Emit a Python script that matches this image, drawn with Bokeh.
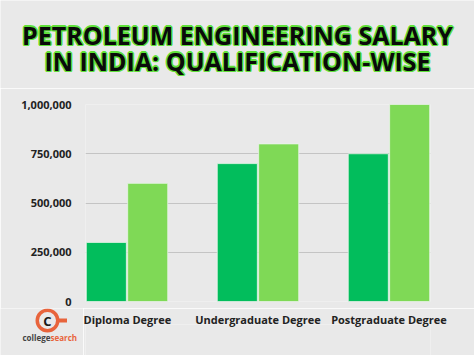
from bokeh.plotting import figure
from bokeh.layouts import column, row
from bokeh.models import Range1d, FixedTicker, NumeralTickFormatter
from bokeh.core.properties import value
from bokeh.embed import file_html
from bokeh.resources import INLINE

categories = ["Diploma Degree", "Undergraduate Degree", "Postgraduate Degree"]
series_a = [300000, 700000, 750000]
series_b = [600000, 800000, 1000000]
y_ticks = [0, 250000, 500000, 750000, 1000000]
title_lines = ["PETROLEUM ENGINEERING SALARY", "IN INDIA: QUALIFICATION-WISE"]
logo_words = ["college", "search"]

W, H = 474, 355
TITLE_H = 88
CHART_BOTTOM = 308
BG = "#e9e9e9"
DARK = "#02bd5c"
LIGHT = "#7fd956"
ORANGE = "#e8643c"
GLOW = "#5fe03a"


def style_plain(f):
    f.background_fill_color = BG
    f.border_fill_color = BG
    f.outline_line_color = None
    f.xgrid.visible = False
    f.ygrid.visible = False


# ---------- title panel ----------
tf = figure(width=W, height=TITLE_H, output_backend="svg", toolbar_location=None,
            x_range=Range1d(0, W), y_range=Range1d(TITLE_H, 0),
            x_axis_location=None, y_axis_location=None, frame_align=False,
            min_border=0, min_border_left=0, min_border_right=0, min_border_top=0, min_border_bottom=0)
style_plain(tf)
title_y = [34, 60]
offsets = [(-1.4, 0), (1.4, 0), (0, -1.4), (0, 1.4), (-1.0, -1.0), (1.0, 1.0), (-1.0, 1.0), (1.0, -1.0)]
for dx, dy in offsets:
    tf.text(x=[W / 2 + dx] * 2, y=[ty + dy for ty in title_y], text=title_lines,
            text_align="center", text_baseline="middle", text_font=value("Open Sans"),
            text_font_style="bold", text_font_size="25px", text_color=GLOW)
tf.text(x=[W / 2] * 2, y=title_y, text=title_lines,
        text_align="center", text_baseline="middle", text_font=value("Open Sans"),
        text_font_style="bold", text_font_size="25px", text_color="#0a0a0a")

# ---------- chart ----------
xs = list(range(len(categories)))
x_rng = Range1d(-0.317, len(categories) - 1 + 0.317)
FL, FR, FT = 85, 44, 104 - TITLE_H
FB = CHART_BOTTOM - 301
p = figure(width=W, height=CHART_BOTTOM - TITLE_H, output_backend="svg", toolbar_location=None,
           x_range=x_rng, y_range=Range1d(0, 1000000), x_axis_location=None, frame_align=False,
           min_border_left=FL, min_border_right=FR, min_border_top=FT, min_border_bottom=FB)
p.background_fill_color = BG
p.border_fill_color = BG
p.outline_line_color = None

bw = 0.306
p.vbar(x=[x - 0.158 for x in xs], top=series_a, width=bw, bottom=0,
       fill_color=DARK, line_color="#e8f5e8", line_width=0.8)
p.vbar(x=[x + 0.158 for x in xs], top=series_b, width=bw, bottom=0,
       fill_color=LIGHT, line_color="#e8f5e8", line_width=0.8)

p.xgrid.visible = False
p.ygrid.ticker = FixedTicker(ticks=y_ticks)
p.ygrid.grid_line_color = "#c4c4c4"
p.ygrid.grid_line_width = 1
p.ygrid.level = "underlay"

p.yaxis.ticker = FixedTicker(ticks=y_ticks)
p.yaxis.formatter = NumeralTickFormatter(format="0,0")
p.yaxis.axis_line_color = None
p.yaxis.major_tick_line_color = None
p.yaxis.minor_tick_line_color = None
p.yaxis.major_label_standoff = 8
p.yaxis.major_label_text_font = "Open Sans"
p.yaxis.major_label_text_font_style = "bold"
p.yaxis.major_label_text_font_size = "11px"
p.yaxis.major_label_text_color = "#222222"

# ---------- bottom row: logo + category axis ----------
BOT_H = H - CHART_BOTTOM
LOGO_W = 83
lf = figure(width=LOGO_W, height=BOT_H, output_backend="svg", toolbar_location=None,
            x_range=Range1d(0, LOGO_W), y_range=Range1d(H, CHART_BOTTOM),
            x_axis_location=None, y_axis_location=None, frame_align=False,
            min_border=0, min_border_left=0, min_border_right=0, min_border_top=0, min_border_bottom=0)
style_plain(lf)
lf.rect(x=[62], y=[320], width=9, height=4, width_units="screen", height_units="screen",
        fill_color=ORANGE, line_color=None)
lf.annulus(x=[47], y=[320], inner_radius=8.5, outer_radius=12, inner_radius_units="screen",
           outer_radius_units="screen", fill_color=ORANGE, line_color=None)
lf.text(x=[47], y=[320.5], text=["C"], text_align="center", text_baseline="middle",
        text_font=value("Open Sans"), text_font_style="bold", text_font_size="13px",
        text_color="#1a1a1a")
lf.text(x=[22, 50], y=[337, 337], text=logo_words, text_align="left", text_baseline="middle",
        text_font=value("Open Sans"), text_font_style="bold", text_font_size="8px",
        text_color=["#444444", ORANGE])

xf = figure(width=W - LOGO_W, height=BOT_H, output_backend="svg", toolbar_location=None,
            x_range=x_rng, y_range=Range1d(0, 1), x_axis_location="above", y_axis_location=None,
            frame_align=False,
            min_border_left=FL - LOGO_W, min_border_right=FR, min_border_top=10, min_border_bottom=0)
style_plain(xf)
xf.xaxis.ticker = FixedTicker(ticks=xs)
xf.xaxis.major_label_overrides = {i: c for i, c in enumerate(categories)}
xf.xaxis.axis_line_color = None
xf.xaxis.major_tick_line_color = None
xf.xaxis.minor_tick_line_color = None
xf.xaxis.major_tick_out = 0
xf.xaxis.major_tick_in = 0
xf.xaxis.major_label_standoff = -2
xf.xaxis.major_label_text_font = "Open Sans"
xf.xaxis.major_label_text_font_style = "bold"
xf.xaxis.major_label_text_font_size = "11px"
xf.xaxis.major_label_text_color = "#222222"

layout = column(tf, p, row(lf, xf, spacing=0), spacing=0)
open("out.html", "w").write(file_html(layout, INLINE))
